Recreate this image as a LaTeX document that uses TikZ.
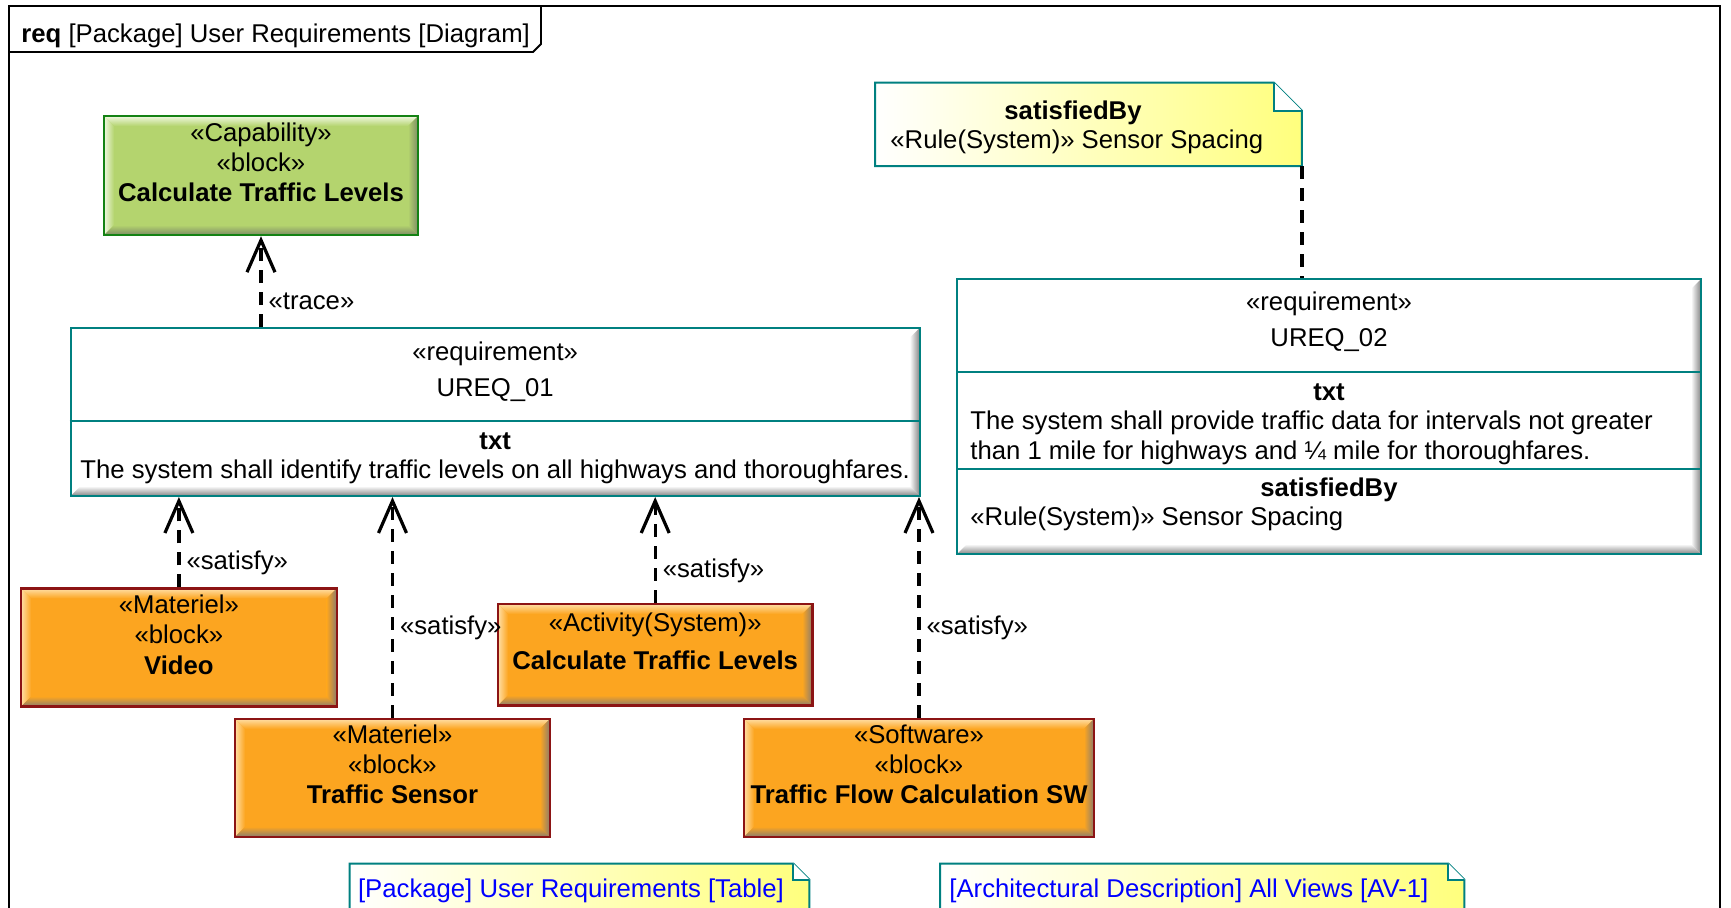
\documentclass[tikz,border=0pt]{standalone}
\usepackage{fontspec}
\setmainfont{Liberation Sans}
\usetikzlibrary{arrows.meta,positioning}

\definecolor{blockorange}{RGB}{252,165,32}
\definecolor{orangelight}{RGB}{255,222,165}
\definecolor{orangedark}{RGB}{138,124,110}
\definecolor{blockgreen}{RGB}{180,212,110}
\definecolor{greenlight}{RGB}{240,248,225}
\definecolor{greendark}{RGB}{125,140,102}
\definecolor{borderred}{RGB}{140,20,20}
\definecolor{bordergreen}{RGB}{20,130,20}
\definecolor{reqteal}{RGB}{0,128,128}
\definecolor{reqgray}{RGB}{132,132,132}
\definecolor{noteyellow}{RGB}{255,255,125}
\definecolor{linkblue}{RGB}{0,0,255}

% raised box: main colour, light edge, dark edge
\tikzset{
  bevel/.style n args={3}{fill=#1,
    path picture={
      \coordinate (bnw) at (path picture bounding box.north west);
      \coordinate (bne) at (path picture bounding box.north east);
      \coordinate (bse) at (path picture bounding box.south east);
      \coordinate (bsw) at (path picture bounding box.south west);
      \shade[top color=#2,bottom color=#1] (bnw) -- (bne) -- ([shift={(-5pt,-5pt)}]bne) -- ([shift={(5pt,-5pt)}]bnw) -- cycle;
      \shade[left color=#2,right color=#1] (bnw) -- ([shift={(5pt,-5pt)}]bnw) -- ([shift={(5pt,5pt)}]bsw) -- (bsw) -- cycle;
      \shade[left color=#1,right color=#3] (bne) -- (bse) -- ([shift={(-5pt,5pt)}]bse) -- ([shift={(-5pt,-5pt)}]bne) -- cycle;
      \shade[top color=#1,bottom color=#3] (bsw) -- (bse) -- ([shift={(-5pt,5pt)}]bse) -- ([shift={(5pt,5pt)}]bsw) -- cycle;
    }}
}

\begin{document}
\begin{tikzpicture}[x=0.5pt,y=-0.5pt,font=\fontsize{12.85pt}{15pt}\selectfont]

  \tikzstyle{block}=[rectangle,inner sep=0pt,line width=1.2pt]
  \tikzstyle{orangeblock}=[block,draw=borderred,bevel={blockorange}{orangelight}{orangedark}]
  \tikzstyle{greenblock}=[block,draw=bordergreen,bevel={blockgreen}{greenlight}{greendark}]
  \tikzstyle{req}=[rectangle,inner sep=0pt,draw=reqteal,line width=1pt,bevel={white}{white}{reqgray}]
  \tikzstyle{txt}=[inner sep=0pt,align=center]
  \tikzstyle{dep}=[line width=1.6pt,dash pattern=on 6.5pt off 4.5pt,-{Straight Barb[length=16pt,width=14pt]}]
  \tikzstyle{lbl}=[anchor=west,inner sep=0pt,xshift=3pt,yshift=-1.2pt]

  \path[use as bounding box,clip] (0,0) rectangle (1731,907);

  % frame
  \draw[line width=0.9pt] (9,6) rectangle (1720,960);
  \draw[line width=0.9pt] (9,52) -- (533,52) -- (541,44) -- (541,6);
  \node[anchor=west,inner sep=0pt] (title) at (21,36) {\textbf{req} [Package] User Requirements [Diagram]};

  % notes
  \node[inner sep=0pt,minimum width=213pt,minimum height=41.3pt] (rulenote) at (1088.5,124.3) {};
  \node[inner sep=0pt,minimum width=229.5pt,minimum height=38pt] (tablenote) at (579.5,902) {};
  \node[inner sep=0pt,minimum width=261.7pt,minimum height=38pt] (avnote) at (1202.3,902) {};
  \foreach \n/\f in {rulenote/14pt,tablenote/8pt,avnote/8pt}{
    \shade[left color=white,right color=noteyellow,draw=reqteal,line width=1pt]
      (\n.south west) -- (\n.north west) -- ([xshift=-\f]\n.north east) -- ([yshift=-\f]\n.north east) -- (\n.south east) -- cycle;
    \draw[reqteal,line width=1pt,fill=white] ([xshift=-\f]\n.north east) -- ([xshift=-\f,yshift=-\f]\n.north east) -- ([yshift=-\f]\n.north east);
  }
  \node[txt] (rulehead) at (1073,113) {\textbf{satisfiedBy}};
  \node[anchor=west,inner sep=0pt] (ruletxt) at (890,141.5) {«Rule(System)» Sensor Spacing};
  \node[anchor=west,inner sep=0pt,text=linkblue] (tabletxt) at (357.7,891) {[Package] User Requirements [Table]};
  \node[anchor=west,inner sep=0pt,text=linkblue] (avtxt) at (949,891) {[Architectural Description] All Views [AV-1]};

  % capability
  \node[greenblock,minimum width=157pt,minimum height=59.5pt] (cap) at (261,175.5) {};
  \node[txt] (captxt) at (261,162.7) {«Capability»\\«block»\\\textbf{Calculate Traffic Levels}};

  % requirements
  \node[req,minimum width=424.5pt,minimum height=84pt] (ureq1) at (495.2,412) {};
  \draw[reqteal,line width=1pt] (ureq1.west |- 0,420.6) -- (ureq1.east |- 0,420.6);
  \node[txt] (ureq1head) at (495.2,371.5) {«requirement»\\[3.25pt]UREQ\_01};
  \node[txt] (ureq1txt) at (495.2,458.5) {\textbf{txt}\\[-0.3pt]The system shall identify traffic levels on all highways and thoroughfares.};

  \node[req,minimum width=372pt,minimum height=137.5pt] (ureq2) at (1329,416.5) {};
  \draw[reqteal,line width=1pt] (ureq2.west |- 0,372) -- (ureq2.east |- 0,372);
  \draw[reqteal,line width=1pt] (ureq2.west |- 0,469) -- (ureq2.east |- 0,469);
  \node[txt] (ureq2head) at (1329,321.8) {«requirement»\\[3.2pt]UREQ\_02};
  \node[txt] (ureq2txthead) at (1329,392.5) {\textbf{txt}};
  \node[anchor=west,align=left,inner sep=0pt] (ureq2txt) at (970,437.8) {The system shall provide traffic data for intervals not greater\\[-0.3pt]than 1 mile for highways and ¼ mile for thoroughfares.};
  \node[txt] (ureq2sathead) at (1329,490.2) {\textbf{satisfiedBy}};
  \node[anchor=west,inner sep=0pt] (ureq2sat) at (970,519) {«Rule(System)» Sensor Spacing};

  % blocks
  \node[orangeblock,minimum width=157.8pt,minimum height=59pt] (video) at (178.9,647.5) {};
  \node[txt] (videotxt) at (178.9,635) {«Materiel»\\«block»\\[0.8pt]\textbf{Video}};
  \node[orangeblock,minimum width=157.5pt,minimum height=59pt] (sensor) at (392.5,777.8) {};
  \node[txt] (sensortxt) at (392.5,764.5) {«Materiel»\\«block»\\\textbf{Traffic Sensor}};
  \node[orangeblock,minimum width=157.2pt,minimum height=50.7pt] (activity) at (655.2,654.7) {};
  \node[txt] (activitytxt) at (655.2,641.5) {«Activity(System)»\\[3.75pt]\textbf{Calculate Traffic Levels}};
  \node[orangeblock,minimum width=175pt,minimum height=59pt] (sw) at (919,777.8) {};
  \node[txt] (swtxt) at (919,764.5) {«Software»\\«block»\\\textbf{Traffic Flow Calculation SW}};

  % links
  \draw[dep] (cap.south |- ureq1.north) -- node[lbl,pos=0.31] (tracelbl) {«trace»} (cap.south);
  \draw[dep] (video.north) -- node[lbl,pos=0.3] (videolbl) {«satisfy»} (video.north |- ureq1.south);
  \draw[dep] (sensor.north) -- node[lbl,pos=0.416] (sensorlbl) {«satisfy»} (sensor.north |- ureq1.south);
  \draw[dep] (activity.north) -- node[lbl,pos=0.328] (activitylbl) {«satisfy»} (activity.north |- ureq1.south);
  \draw[dep] (sw.north) -- node[lbl,pos=0.416] (swlbl) {«satisfy»} (sw.north |- ureq1.south);
  \draw[line width=1.6pt,dash pattern=on 6.5pt off 4.5pt] (rulenote.south east) -- (rulenote.south east |- ureq2.north);
\end{tikzpicture}
\end{document}
